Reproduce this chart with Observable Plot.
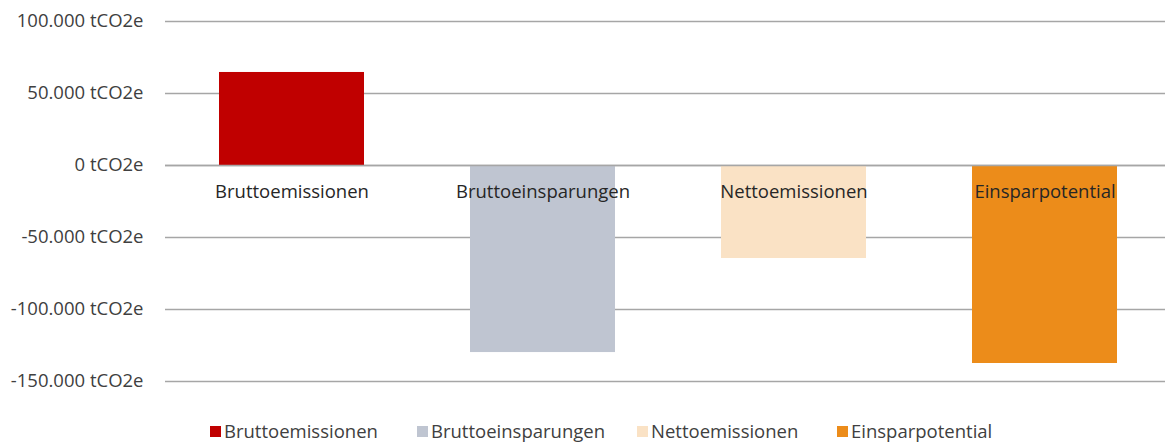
<!DOCTYPE html>
<html>
<head>
<meta charset="utf-8">
<script src="https://cdn.jsdelivr.net/npm/d3@7"></script>
<script src="https://cdn.jsdelivr.net/npm/@observablehq/plot@0.6"></script>
<style>
  body { margin: 0; background: #fff; font-family: "Open Sans", sans-serif; }
  #chart svg { display: block; }
  .legend { position: relative; height: 22px; font-size: 18.5px; color: #404040; line-height: 22px; }
  .legend .item { position: absolute; top: 0; display: flex; align-items: center; white-space: nowrap; }
  .legend .sw { width: 11px; height: 11px; margin-right: 3px; }
</style>
</head>
<body>
<div id="chart"></div>
<div class="legend" id="legend"></div>
<script>
const categories = ["Bruttoemissionen", "Bruttoeinsparungen", "Nettoemissionen", "Einsparpotential"];
const values = [64600, -129900, -64600, -137500];
const colors = ["#C00000", "#BFC5D1", "#FAE2C5", "#EC8C1A"];
const yTicks = [100000, 50000, 0, -50000, -100000, -150000];

const data = categories.map((c, i) => ({category: c, value: values[i]}));
const loc = d3.formatLocale({decimal: ",", thousands: ".", grouping: [3], currency: ["", " €"], minus: "-"});
const fmt = loc.format(",");

const chart = Plot.plot({
  width: 1165,
  height: 420,
  marginLeft: 165,
  marginRight: 0,
  marginTop: 21,
  marginBottom: 39,
  style: {fontFamily: "Open Sans, sans-serif", fontSize: "18.5px", color: "#404040", background: "#fff", overflow: "hidden"},
  x: {domain: categories, range: [164, 1171], paddingInner: 0.424, paddingOuter: 0.212, axis: null},
  y: {domain: [-150000, 100000], ticks: yTicks, tickFormat: d => fmt(d) + " tCO2e", tickSize: 0, tickPadding: 22, label: null},
  color: {domain: categories, range: colors},
  marks: [
    Plot.ruleY(yTicks, {stroke: "#A6A6A6", strokeWidth: 1.5}),
    Plot.barY(data, {x: "category", y: "value", fill: "category"}),
    Plot.ruleY([0], {stroke: "#A6A6A6", strokeWidth: 1.5}),
    Plot.text(data, {x: "category", y: () => 0, text: "category", dy: 27, fill: "#262626", fontSize: 18.5})
  ]
});
document.getElementById("chart").appendChild(chart);

const legendLeft = [210, 417, 637, 837];
const legend = document.getElementById("legend");
categories.forEach((c, i) => {
  const item = document.createElement("div");
  item.className = "item";
  item.style.left = legendLeft[i] + "px";
  const sw = document.createElement("span");
  sw.className = "sw";
  sw.style.background = colors[i];
  const t = document.createElement("span");
  t.textContent = c;
  item.appendChild(sw);
  item.appendChild(t);
  legend.appendChild(item);
});
</script>
</body>
</html>
